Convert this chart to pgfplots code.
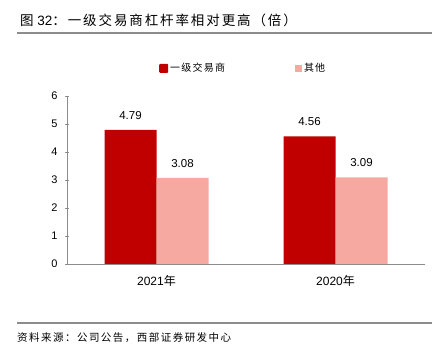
\documentclass[border=0pt]{standalone}
\usepackage{fontspec}
\setmainfont{Liberation Sans}
\newfontfamily\cjk[LetterSpace=14]{Noto Sans CJK SC}
\newfontfamily\cjkl[LetterSpace=12]{Noto Sans CJK SC}
\newfontfamily\cjkn{Noto Sans CJK SC}
\usepackage{pgfplots}
\pgfplotsset{compat=1.18}
\definecolor{dred}{HTML}{C00000}
\definecolor{lpink}{HTML}{F6A9A1}
\definecolor{lgray}{HTML}{8C8C8C}
\begin{document}
\begin{tikzpicture}[x=1pt,y=1pt]
\path[use as bounding box] (0,0) rectangle (441,361);
\node[anchor=west, inner sep=0, font=\fontsize{13.5}{13.5}\selectfont] at (20,341) {{\cjk 图} 32{\cjk ：一级交易商杠杆率相对更高（倍）}};
\draw[lgray, line width=1.5pt] (17,328) -- (432,328);
\draw[lgray, line width=1.5pt] (17,38) -- (432,38);
\node[anchor=west, inner sep=0, font=\cjk\fontsize{10.5}{10.5}\selectfont] at (17,23) {资料来源：公司公告，西部证券研发中心};
\begin{axis}[
  at={(67pt,97pt)}, anchor=south west, scale only axis,
  width=358pt, height=168pt,
  ybar=0pt, bar width=52pt,
  xmin=-0.5, xmax=1.5, ymin=0, ymax=6,
  xtick={0,1}, xticklabels={{2021{\cjkn 年}},{2020{\cjkn 年}}},
  extra x ticks={0.5}, extra x tick labels={},
  extra x tick style={major tick length=3pt, tick style={lgray}},
  x tick style={draw=none},
  ytick={0,1,2,3,4,5,6},
  tick align=inside, major tick length=4pt,
  y tick style={lgray},
  axis x line=bottom, axis y line=left,
  axis line style={lgray, -},
  /pgf/number format/assume math mode=true,
  yticklabel style={font=\fontsize{11}{11}\selectfont, xshift=-4pt},
  xticklabel style={font=\fontsize{12}{12}\selectfont, yshift=-6pt},
  nodes near coords,
  nodes near coords style={font=\fontsize{11.5}{11.5}\selectfont, black, yshift=7pt, /pgf/number format/.cd, fixed, precision=2, fixed zerofill},
  legend columns=2,
  legend style={at={(0.257,1.164)}, anchor=west, draw=none, inner sep=0pt,
    font=\cjkl\fontsize{10}{10}\selectfont,
    /tikz/every even column/.append style={column sep=68pt}},
]
\addplot[draw=none, fill=dred, legend image code/.code={\fill[dred, rounded corners=1pt] (0pt,-4.5pt) rectangle (9pt,4.5pt);}] coordinates {(0,4.79) (1,4.56)};
\addlegendentry{一级交易商}
\addplot[draw=none, fill=lpink, legend image code/.code={\fill[lpink] (0pt,-3.5pt) rectangle (7pt,3.5pt);}] coordinates {(0,3.08) (1,3.09)};
\addlegendentry{其他}
\end{axis}
\end{tikzpicture}
\end{document}
